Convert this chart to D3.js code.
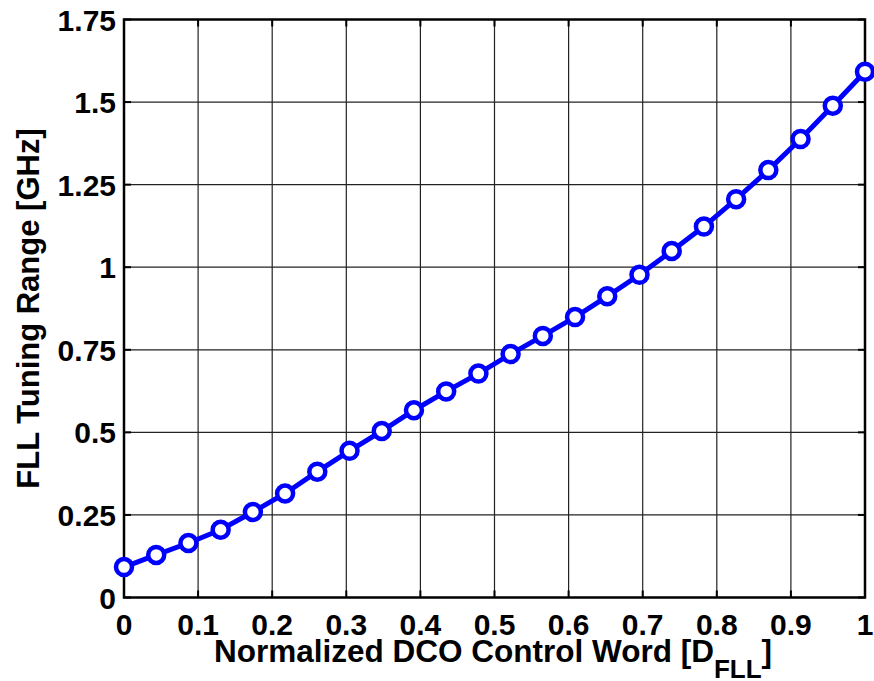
<!DOCTYPE html>
<html>
<head>
<meta charset="utf-8">
<script src="https://cdn.jsdelivr.net/npm/d3@7"></script>
<style>
body{margin:0;background:#fff;}
text{font-family:"Liberation Sans",Arial,sans-serif;font-weight:bold;fill:#000;}
</style>
</head>
<body>
<svg id="chart" width="874" height="681"></svg>
<script>
// DCO control word (normalized), 24 codes
var codeIdx = d3.range(24);
var tuning = [0.092,0.129,0.165,0.205,0.259,0.315,0.381,0.444,0.504,0.567,0.624,0.678,
              0.737,0.792,0.849,0.912,0.977,1.049,1.123,1.206,1.294,1.388,1.489,1.592];
var xTicks = [0,0.1,0.2,0.3,0.4,0.5,0.6,0.7,0.8,0.9,1];
var yTicks = [0,0.25,0.5,0.75,1,1.25,1.5,1.75];

var svg = d3.select("#chart");
var pL=124, pR=865, pT=19.5, pB=597.5;

var x = d3.scaleLinear().domain([0,1]).range([pL,pR]);
var y = d3.scaleLinear().domain([0,1.75]).range([pB,pT]);

var pts = codeIdx.map(function(i){ return {x:i/23, y:tuning[i]}; });

//grid
svg.append("g").selectAll("line").data(xTicks).enter().append("line")
  .attr("x1",function(d){return x(d);}).attr("x2",function(d){return x(d);})
  .attr("y1",pT).attr("y2",pB)
  .style("stroke","#222").style("stroke-width",1.2);
svg.append("g").selectAll("line").data(yTicks).enter().append("line")
  .attr("y1",function(d){return y(d);}).attr("y2",function(d){return y(d);})
  .attr("x1",pL).attr("x2",pR)
  .style("stroke","#222").style("stroke-width",1.2);

//inside ticks on all four sides
var tl=7;
var tk = svg.append("g").style("stroke","#000").style("stroke-width",2);
xTicks.forEach(function(d){
  tk.append("line").attr("x1",x(d)).attr("x2",x(d)).attr("y1",pB).attr("y2",pB-tl);
  tk.append("line").attr("x1",x(d)).attr("x2",x(d)).attr("y1",pT).attr("y2",pT+tl);
});
yTicks.forEach(function(d){
  tk.append("line").attr("y1",y(d)).attr("y2",y(d)).attr("x1",pL).attr("x2",pL+tl);
  tk.append("line").attr("y1",y(d)).attr("y2",y(d)).attr("x1",pR).attr("x2",pR-tl);
});

//box
svg.append("rect").attr("x",pL).attr("y",pT)
  .attr("width",pR-pL).attr("height",pB-pT)
  .style("fill","none").style("stroke","#000").style("stroke-width",2.5);

//tick labels
svg.append("g").selectAll("text").data(xTicks).enter().append("text")
  .attr("x",function(d){return x(d);}).attr("y",635)
  .attr("text-anchor","middle").style("font-size","30px")
  .text(function(d){return d3.format("")(d);});
svg.append("g").selectAll("text").data(yTicks).enter().append("text")
  .attr("x",116).attr("y",function(d){return y(d)+11;})
  .attr("text-anchor","end").style("font-size","30px")
  .text(function(d){return d3.format("")(d);});

//axis labels
var xl = svg.append("text").attr("x",214).attr("y",662).style("font-size","31.5px");
xl.append("tspan").text("Normalized DCO Control Word [D");
xl.append("tspan").attr("dy",16).style("font-size","26px").text("FLL");
xl.append("tspan").attr("dy",-16).text("]");

svg.append("text").attr("transform","translate(39,"+((pT+pB)/2)+") rotate(-90)")
  .attr("text-anchor","middle").style("font-size","31px")
  .text("FLL Tuning Range [GHz]");

//curve
var line = d3.line().x(function(d){return x(d.x);}).y(function(d){return y(d.y);});
svg.append("path").datum(pts).attr("d",line)
  .style("fill","none").style("stroke","#0000ff").style("stroke-width",5);
svg.append("g").selectAll("circle").data(pts).enter().append("circle")
  .attr("cx",function(d){return x(d.x);}).attr("cy",function(d){return y(d.y);})
  .attr("r",8)
  .style("fill","#fff").style("stroke","#0000ff").style("stroke-width",4.5);
</script>
</body>
</html>
